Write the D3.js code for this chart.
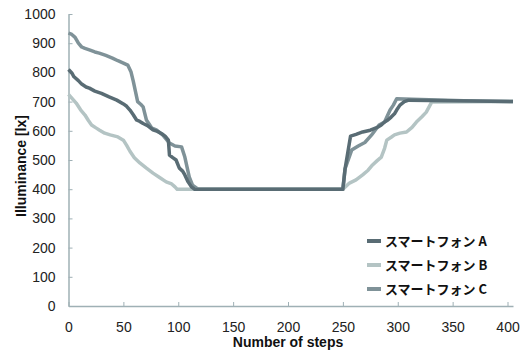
<!DOCTYPE html>
<html>
<head>
<meta charset="utf-8">
<script src="https://cdn.jsdelivr.net/npm/d3@7/dist/d3.min.js"></script>
<style>
  body { margin: 0; background: #fff; }
  svg { display: block; }
  .tick text { font-family: "Liberation Sans", Arial, sans-serif; font-size: 14px; fill: #222; }
  .axis-label { font-family: "Liberation Sans", Arial, sans-serif; font-size: 14px; font-weight: bold; fill: #111; }
  .legend text { font-family: "Noto Sans CJK JP", "Liberation Sans", sans-serif; font-size: 13px; font-weight: bold; fill: #111; }
</style>
</head>
<body>
<svg width="530" height="356"></svg>
<script>
const seriesNames = ["スマートフォン A", "スマートフォン B", "スマートフォン C"];
const xTicks = [0, 50, 100, 150, 200, 250, 300, 350, 400];
const yTicks = [0, 100, 200, 300, 400, 500, 600, 700, 800, 900, 1000];

const stepsA = [0, 3, 5, 9, 12, 16, 19, 24, 30, 37, 44, 50, 53, 56, 59, 62, 65, 68, 72, 77, 81, 85, 88, 91, 92, 95, 98, 101, 104, 106, 109, 112, 115, 250, 252, 257, 262, 268, 275, 282, 285, 288, 291, 294, 297, 299, 302, 306, 310, 405];
const valuesA = [810, 798, 785, 772, 760, 750, 746, 736, 728, 716, 705, 692, 684, 671, 655, 637, 632, 625, 618, 603, 598, 590, 582, 568, 517, 508, 500, 472, 462, 449, 425, 408, 400, 400, 470, 582, 588, 596, 602, 613, 620, 630, 637, 647, 658, 671, 688, 700, 705, 700];

const stepsB = [0, 3, 7, 11, 15, 18, 21, 25, 28, 33, 38, 45, 50, 53, 56, 60, 65, 71, 77, 83, 89, 94, 97, 99, 250, 256, 262, 268, 273, 277, 281, 285, 288, 290, 294, 297, 302, 308, 313, 317, 322, 326, 331, 405];
const valuesB = [725, 712, 695, 672, 654, 636, 620, 610, 603, 592, 586, 579, 568, 550, 530, 508, 490, 472, 455, 440, 425, 418, 408, 400, 400, 421, 432, 449, 465, 483, 497, 510, 540, 568, 578, 586, 592, 596, 612, 630, 648, 664, 699, 700];

const stepsC = [0, 3, 6, 9, 12, 15, 19, 24, 28, 34, 40, 45, 50, 54, 57, 59, 61, 63, 66, 68, 71, 76, 80, 86, 92, 97, 103, 106, 110, 113, 118, 250, 252, 258, 264, 270, 276, 283, 288, 293, 296, 299, 313, 360, 405];
const valuesC = [935, 930, 920, 900, 887, 882, 877, 870, 866, 858, 849, 840, 832, 825, 801, 770, 735, 700, 690, 682, 637, 609, 603, 585, 558, 548, 545, 510, 442, 414, 400, 400, 470, 534, 548, 560, 585, 620, 630, 671, 688, 710, 708, 703, 700];

const colors = ["#596c74", "#b4c4c4", "#7f9298"];

const series = [
  { name: seriesNames[0], color: colors[0], points: stepsA.map((s, i) => ({ step: s, value: valuesA[i] })) },
  { name: seriesNames[1], color: colors[1], points: stepsB.map((s, i) => ({ step: s, value: valuesB[i] })) },
  { name: seriesNames[2], color: colors[2], points: stepsC.map((s, i) => ({ step: s, value: valuesC[i] })) }
];

const svg = d3.select("svg");
const margin = { top: 14, right: 17, bottom: 50, left: 68.5 };
const width = +svg.attr("width") - margin.left - margin.right;
const height = +svg.attr("height") - margin.top - margin.bottom;

const g = svg.append("g")
  .attr("transform", `translate(${margin.left},${margin.top})`);

const x = d3.scaleLinear().domain([0, 405]).range([0, width]);
const y = d3.scaleLinear().domain([0, 1000]).range([height, 0]);

const axisColor = "#9fb0b5";

const xAxis = g.append("g")
  .attr("transform", `translate(0,${height})`)
  .call(d3.axisBottom(x).tickValues(xTicks).tickFormat(d3.format("d"))
    .tickSizeInner(-4).tickSizeOuter(0).tickPadding(16));

const yAxis = g.append("g")
  .call(d3.axisLeft(y).tickValues(yTicks).tickFormat(d3.format("d"))
    .tickSizeInner(-4).tickSizeOuter(0).tickPadding(13));

[xAxis, yAxis].forEach(a => {
  a.select(".domain").attr("stroke", axisColor).attr("stroke-width", 1.5);
  a.selectAll(".tick line").attr("stroke", axisColor).attr("stroke-width", 1);
});

g.append("text")
  .attr("class", "axis-label")
  .attr("x", x(200))
  .attr("y", height + 41)
  .attr("text-anchor", "middle")
  .text("Number of steps");

g.append("text")
  .attr("class", "axis-label")
  .attr("transform", "rotate(-90)")
  .attr("x", -(y(500) + 6))
  .attr("y", -43)
  .attr("text-anchor", "middle")
  .text("Illuminance [lx]");

const line = d3.line()
  .x(d => x(d.step))
  .y(d => y(d.value));

// C drawn first, then B, then A on top
[series[2], series[1], series[0]].forEach(s => {
  g.append("path")
    .datum(s.points)
    .attr("fill", "none")
    .attr("stroke", s.color)
    .attr("stroke-width", 3.5)
    .attr("stroke-linejoin", "round")
    .attr("d", line);
});

const legend = svg.append("g").attr("class", "legend");
series.forEach((s, i) => {
  const ly = 241 + i * 24;
  legend.append("line")
    .attr("x1", 367).attr("x2", 381)
    .attr("y1", ly).attr("y2", ly)
    .attr("stroke", s.color)
    .attr("stroke-width", 4);
  legend.append("text")
    .attr("x", 385)
    .attr("y", ly)
    .attr("dy", "0.35em")
    .text(s.name);
});
</script>
</body>
</html>
